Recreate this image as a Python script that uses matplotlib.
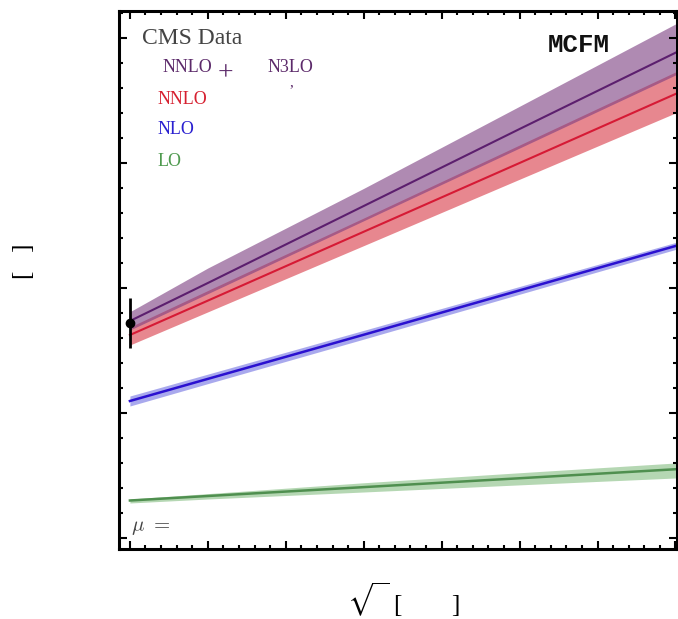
import matplotlib
matplotlib.use("Agg")
import matplotlib.pyplot as plt
from matplotlib.ticker import MultipleLocator, NullFormatter

# ---- data (sqrt(s) in TeV, cross section in arbitrary units)
sqrts = [13, 14, 16, 18, 20]

n3lo_central = [27.36, 30.40, 36.56, 42.72, 48.82]
n3lo_upper = [28.10, 31.60, 37.97, 44.54, 51.12]
n3lo_lower = [26.64, 29.55, 35.38, 41.20, 47.04]

nnlo_central = [26.24, 28.99, 34.50, 40.00, 45.52]
nnlo_upper = [26.88, 29.80, 35.60, 41.44, 47.28]
nnlo_lower = [25.44, 28.09, 33.39, 38.70, 44.00]

nlo_central = [20.96, 22.73, 26.26, 29.81, 33.36]
nlo_upper = [21.36, 23.11, 26.61, 30.12, 33.64]
nlo_lower = [20.56, 22.35, 25.91, 29.50, 33.08]

lo_central = [13.00, 13.36, 14.07, 14.78, 15.50]
lo_upper = [13.12, 13.55, 14.42, 15.22, 16.00]
lo_lower = [12.80, 13.12, 13.68, 14.25, 14.80]

cms_x = [13]
cms_y = [27.2]
cms_err = [2.0]

W, H = 678, 619
fig = plt.figure(figsize=(W / 100, H / 100), dpi=100)
ax = fig.add_axes([119 / W, 1 - 549 / H, (677 - 119) / W, (549 - 11) / H])

# bands
ax.fill_between(sqrts, lo_lower, lo_upper, color=(70/255, 157/255, 65/255), alpha=0.4, lw=0)
ax.fill_between(sqrts, nlo_lower, nlo_upper, color=(42/255, 42/255, 212/255), alpha=0.4, lw=0)
ax.fill_between(sqrts, nnlo_lower, nnlo_upper, color=(213/255, 37/255, 51/255), alpha=0.55, lw=0)
ax.fill_between(sqrts, n3lo_lower, n3lo_upper, color=(123/255, 60/255, 128/255), alpha=0.6, lw=0)

# central lines
ax.plot(sqrts, lo_central, color="#4f8f4f", lw=1.8)
ax.plot(sqrts, nlo_central, color="#2a10d0", lw=1.8)
ax.plot(sqrts, nnlo_central, color="#d61a35", lw=1.5)
ax.plot(sqrts, n3lo_central, color="#5c1f6e", lw=1.5)

# data point
ax.errorbar(cms_x, cms_y, yerr=cms_err, fmt="o", color="black", ms=6,
            elinewidth=2, capsize=0, zorder=10)

ax.set_xlim(12.86, 20.02)
ax.set_ylim(10 - 11 / 12.5, 50 + 27 / 12.5)

ax.xaxis.set_major_locator(MultipleLocator(1))
ax.xaxis.set_minor_locator(MultipleLocator(0.2))
ax.yaxis.set_major_locator(MultipleLocator(10))
ax.yaxis.set_minor_locator(MultipleLocator(2))
ax.xaxis.set_major_formatter(NullFormatter())
ax.yaxis.set_major_formatter(NullFormatter())
ax.tick_params(which="both", direction="in", top=True, right=True, width=1.5, color="black")
ax.tick_params(which="major", length=6)
ax.tick_params(which="minor", length=3)
for s in ax.spines.values():
    s.set_linewidth(2.2)

serif = ["Liberation Serif", "DejaVu Serif"]

def ftext(x, y, s, **kw):
    fig.text(x / W, 1 - y / H, s, **kw)

ftext(142, 38, "CMS Data", family=serif, fontsize=17, color="#444444", va="center", ha="left")
ftext(163, 67, "NNLO", family=serif, fontsize=13, color="#5c2a6a", va="center", ha="left")
ftext(218, 74, "+", family=serif, fontsize=20, color="#5c2a6a", va="center", ha="left")
ftext(268, 67, "N3LO", family=serif, fontsize=13, color="#5c2a6a", va="center", ha="left")
ftext(289, 83, ",", family=serif, fontsize=11, color="#5c2a6a", va="center", ha="left")
ftext(158, 99, "NNLO", family=serif, fontsize=13, color="#d62030", va="center", ha="left")
ftext(158, 130, "NLO", family=serif, fontsize=13, color="#2a20d0", va="center", ha="left")
ftext(158, 162, "LO", family=serif, fontsize=13, color="#4f9a4f", va="center", ha="left")
ftext(548, 45, "MCFM", family=["Liberation Mono", "DejaVu Sans Mono"], fontsize=18.5,
      fontweight="bold", color="#111111", va="center", ha="left")
ftext(131, 527, r"$\mu\ =$", fontsize=15, color="#444444", va="center", ha="left",
      math_fontfamily="cm")

# axis labels (only the visible glyphs remain)
ftext(347, 600, r"$\sqrt{\,\,\,}$", fontsize=19, color="black", va="center", ha="left",
      math_fontfamily="stix")
ftext(393, 606, "[", family=serif, fontsize=18, color="black", va="center", ha="left")
ftext(451, 606, "]", family=serif, fontsize=18, color="black", va="center", ha="left")
ftext(24, 261, "[   ]", family=serif, fontsize=18, color="black", va="center",
      ha="center", rotation=90)

fig.savefig("out.png", dpi=100)
